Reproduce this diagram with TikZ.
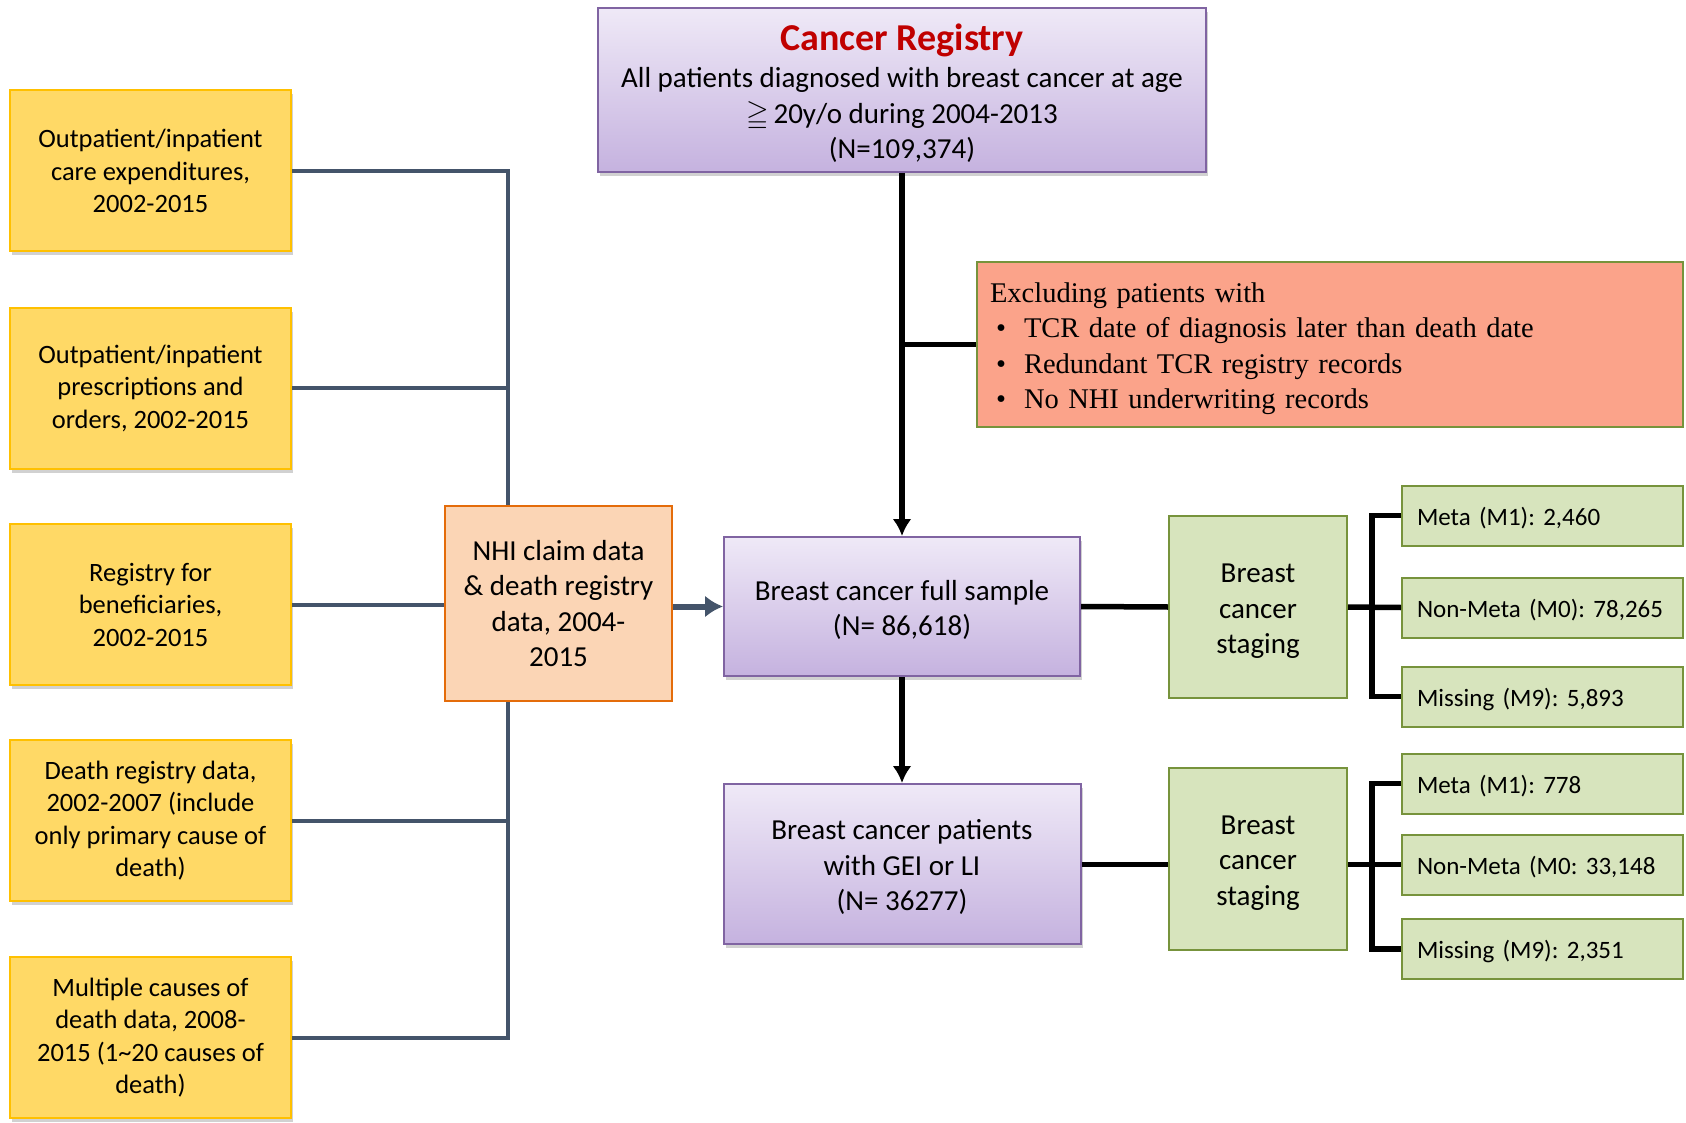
\documentclass[tikz,border=0pt]{standalone}
\usepackage{fontspec}
\setmainfont{Carlito}
\newfontfamily\timesfont{Liberation Serif}
\usepackage{amssymb}
\usetikzlibrary{arrows, arrows.meta, positioning, shadows}
\frenchspacing

\definecolor{srcfill}{HTML}{FFD966}
\definecolor{srcdraw}{HTML}{FFC000}
\definecolor{purtop}{HTML}{EFE9F7}
\definecolor{purbot}{HTML}{C5B2DF}
\definecolor{purdraw}{HTML}{8064A2}
\definecolor{nhifill}{HTML}{FBD5B5}
\definecolor{nhidraw}{HTML}{E46C0A}
\definecolor{exclfill}{HTML}{FBA38A}
\definecolor{grnfill}{HTML}{D7E4BD}
\definecolor{grndraw}{HTML}{77933C}
\definecolor{slate}{HTML}{44546A}
\definecolor{regred}{HTML}{C00000}

\begin{document}
\begin{tikzpicture}[x=1pt, y=-1pt, >={Latex[length=17pt, width=19pt]},
    box/.style={draw, line width=2pt, align=center, inner sep=0pt,
        font=\fontsize{29}{35.5}\selectfont},
    shade/.style={drop shadow={shadow xshift=2pt, shadow yshift=-4pt, opacity=0.3, fill=black!60}},
    src/.style={box, shade, fill=srcfill, draw=srcdraw, minimum width=281, minimum height=161,
        font=\fontsize{26.5}{32.5}\selectfont},
    pur/.style={box, shade, top color=purtop, bottom color=purbot, draw=purdraw},
    stg/.style={box, fill=grnfill, draw=grndraw, minimum width=178, minimum height=182},
    cnt/.style={box, fill=grnfill, draw=grndraw, align=left, inner xsep=15pt,
        text width=251, minimum height=60, font=\fontsize{25}{30}\selectfont},
    bus/.style={draw=slate, line width=4pt},
    blk/.style={draw=black, line width=5.5pt}]
    \useasboundingbox (0, 0) rectangle (1686, 1123);

    \node[src] at (150.5, 171) (src_1) {Outpatient/inpatient\\care expenditures,\\2002-2015};
    \node[src] at (150.5, 388) (src_2) {Outpatient/inpatient\\prescriptions and\\orders, 2002-2015};
    \node[src] at (150.5, 604.5) (src_3) {Registry for\\beneficiaries,\\2002-2015};
    \node[src] at (150.5, 820.5) (src_4) {Death registry data,\\2002-2007 (include\\only primary cause of\\death)};
    \node[src] at (150.5, 1037.5) (src_5) {Multiple causes of\\death data, 2008-\\2015 (1\textasciitilde20 causes of\\death)};

    \node[box, fill=nhifill, draw=nhidraw, minimum width=227, minimum height=195] at (558.5, 603.5) (nhi)
        {NHI claim data\\\& death registry\\data, 2004-\\2015};

    \node[pur, minimum width=608, minimum height=164] at (902, 90) (reg)
        {\rule{0pt}{33pt}{\fontsize{38}{42}\selectfont\bfseries\color{regred}Cancer Registry}\\[2pt]
        All patients diagnosed with breast cancer at age\\
        $\geqq$\,20y/o during 2004-2013\\(N=109,374)};
    \node[pur, minimum width=356, minimum height=139] at (902, 606.5) (full)
        {\rule{0pt}{27pt}Breast cancer full sample\\(N= 86,618)};
    \node[pur, minimum width=357, minimum height=160] at (902, 864) (gei)
        {\rule{0pt}{27pt}Breast cancer patients\\with GEI or LI\\(N= 36277)};

    \node[box, fill=exclfill, draw=grndraw, align=left, inner xsep=13pt, text width=680,
        minimum height=165, font=\timesfont\fontsize{28.5}{35.5}\selectfont] at (1330, 344.5) (excl)
        {\rule{0pt}{28pt}Excluding patients with\\
        \makebox[34pt][l]{\hspace{6pt}\textbullet}TCR date of diagnosis later than death date\\
        \makebox[34pt][l]{\hspace{6pt}\textbullet}Redundant TCR registry records\\
        \makebox[34pt][l]{\hspace{6pt}\textbullet}No NHI underwriting records};

    \node[stg] at (1258, 607) (stg_1) {\rule{0pt}{27pt}Breast\\cancer\\staging};
    \node[stg] at (1258, 858.5) (stg_2) {\rule{0pt}{27pt}Breast\\cancer\\staging};

    \node[cnt] at (1542.5, 515.5) (m_1_1) {\rule{0pt}{24pt}Meta (M1): 2,460};
    \node[cnt] at (1542.5, 607.5) (m_1_2) {\rule{0pt}{24pt}Non-Meta (M0): 78,265};
    \node[cnt] at (1542.5, 696.5) (m_1_3) {\rule{0pt}{24pt}Missing (M9): 5,893};
    \node[cnt] at (1542.5, 783.5) (m_2_1) {\rule{0pt}{24pt}Meta (M1): 778};
    \node[cnt] at (1542.5, 864.5) (m_2_2) {\rule{0pt}{24pt}Non-Meta (M0: 33,148};
    \node[cnt] at (1542.5, 949) (m_2_3) {\rule{0pt}{24pt}Missing (M9): 2,351};

    \coordinate (bus_x) at (508, 0);
    \coordinate (brk_1) at (1372, 607);
    \coordinate (brk_2) at (1372, 864.5);

    \draw[bus] (src_1.east) -| (bus_x |- nhi.north);
    \draw[bus] (src_2.east) -- (src_2.east -| bus_x);
    \draw[bus] (src_3.east) -- (src_3.east -| nhi.west);
    \draw[bus] (src_4.east) -| (bus_x |- nhi.south);
    \draw[bus] (src_5.east) -| (bus_x |- nhi.south);
    \draw[bus, line width=6pt, -{Latex[length=18pt, width=22pt]}] (full.west -| nhi.east) -- (full.west);

    \draw[blk, ->] (reg.south) -- (full.north);
    \draw[blk] (excl.west -| reg.south) -- (excl.west);
    \draw[blk, ->] (full.south) -- (gei.north);

    \draw[blk] (full.east) -- (stg_1.west);
    \draw[blk] (stg_1.east) -- (m_1_2.west);
    \draw[blk] (m_1_1.west) -| (brk_1) |- (m_1_3.west);
    \draw[blk] (gei.east |- brk_2) -- (stg_2.west |- brk_2);
    \draw[blk] (stg_2.east |- brk_2) -- (m_2_2.west);
    \draw[blk] (m_2_1.west) -| (brk_2) |- (m_2_3.west);
\end{tikzpicture}
\end{document}
